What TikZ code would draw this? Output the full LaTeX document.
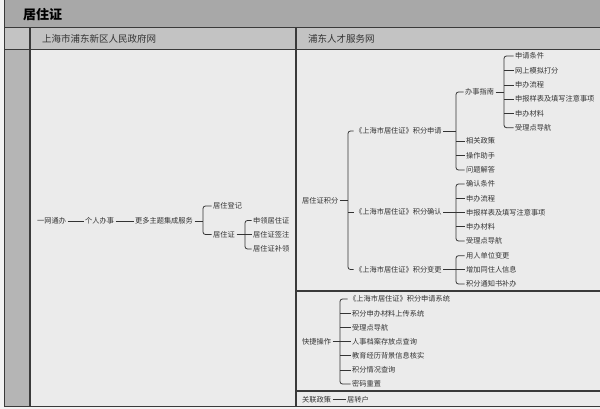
\documentclass[tikz,border=0pt]{standalone}
\usepackage{fontspec}
\newfontfamily\cjk{Noto Sans CJK SC}
\usetikzlibrary{calc}
\definecolor{titlebg}{HTML}{A8A8A8}
\definecolor{headbg}{HTML}{C3C3C3}
\definecolor{stripbg}{HTML}{B5B5B5}
\definecolor{bodybg}{HTML}{EBEBEB}
\definecolor{outbg}{HTML}{F2F2F2}
\definecolor{framec}{HTML}{3A3A3A}
\definecolor{txt}{HTML}{333333}
\newcommand\mybrk[4]{%
  \draw[conn] (#2.east) -- (#1 |- #2.east);
  \draw[conn,rounded corners=2.5pt] (#3.west) -- (#1 |- #3.west) -- (#1 |- #4.west) -- (#4.west);}
\newcommand\mystub[2]{\draw[conn] (#2.west) -- (#1 |- #2.west);}
\begin{document}
\begin{tikzpicture}[x=1pt,y=-1pt,
  conn/.style={draw=txt, line width=0.8pt},
  fr/.style={draw=framec, line width=1.4pt},
  lbl/.style={anchor=west, inner xsep=1.5pt, inner ysep=0pt, text height=6.3pt, text depth=0.9pt,
    font=\cjk\fontsize{7.2}{8}\selectfont, text=txt},
  hd/.style={anchor=west, inner sep=0pt, font=\cjk\fontsize{9.5}{11}\selectfont, text=txt,
    text height=8.3pt, text depth=1.2pt}]
\useasboundingbox (0,0) rectangle (600,409);
% backgrounds
\fill[outbg] (0,0) rectangle (600,409);
\fill[titlebg] (4,0) rectangle (600,28);
\fill[headbg] (4,28) rectangle (600,49.5);
\fill[stripbg] (4,49.5) rectangle (30,406.5);
\fill[bodybg] (30,49.5) rectangle (600,406.5);
% frame lines
\draw[fr] (4.5,0) -- (4.5,406.5);
\draw[draw=framec, line width=1pt] (4,28) -- (600,28);
\draw[fr] (4,49.5) -- (600,49.5);
\draw[fr] (30,28) -- (30,406.5);
\draw[fr] (296,28) -- (296,406.5);
\draw[fr] (296,291) -- (600,291);
\draw[fr] (296,391) -- (600,391);
\draw[fr] (4,406.5) -- (600,406.5);
% title and headers
\node[font=\cjk\bfseries\fontsize{13}{15}\selectfont, text=black, anchor=west, inner sep=0pt,
  text height=11.4pt, text depth=1.6pt] (title) at (23,15) {居住证};
\node[hd] (h1) at (42,38.5) {上海市浦东新区人民政府网};
\node[hd] (h2) at (308,38.5) {浦东人才服务网};
% left tree
\node[lbl] (a1) at (35.5,221) {一网通办};
\node[lbl] (a2) at (83.5,221) {个人办事};
\node[lbl] (a3) at (133.5,221) {更多主题集成服务};
\node[lbl] (a4) at (211.5,206) {居住登记};
\node[lbl] (a5) at (211.5,234.5) {居住证};
\node[lbl] (a6) at (251.5,220.5) {申领居住证};
\node[lbl] (a7) at (251.5,234.5) {居住证签注};
\node[lbl] (a8) at (251.5,249) {居住证补领};
\coordinate (ba) at (203,0);
\coordinate (bb) at (245,0);
\draw[conn] (a1) -- (a2);
\draw[conn] (a2) -- (a3);
\mybrk{ba}{a3}{a4}{a5}
\mybrk{bb}{a5}{a6}{a8}
\mystub{bb}{a7}
% right tree
\node[lbl] (r0) at (300.5,200.5) {居住证积分};
\node[lbl] (r1) at (353.5,131) {《上海市居住证》积分申请};
\node[lbl] (r2) at (353.5,212) {《上海市居住证》积分确认};
\node[lbl] (r3) at (353.5,269.5) {《上海市居住证》积分变更};
\coordinate (bc) at (348,0);
\mybrk{bc}{r0}{r1}{r3}
\mystub{bc}{r2}
\coordinate (bd) at (456,0);
\node[lbl] (s1) at (463.5,92) {办事指南};
\node[lbl] (s2) at (464.5,141) {相关政策};
\node[lbl] (s3) at (464.5,155.5) {操作助手};
\node[lbl] (s4) at (464.5,170) {问题解答};
\mybrk{bd}{r1}{s1}{s4}
\mystub{bd}{s2}
\mystub{bd}{s3}
\coordinate (be) at (504,0);
\node[lbl] (u1) at (513.5,56) {申请条件};
\node[lbl] (u2) at (513.5,70.5) {网上模拟打分};
\node[lbl] (u3) at (513.5,85) {申办流程};
\node[lbl] (u4) at (513.5,99.3) {申报样表及填写注意事项};
\node[lbl] (u5) at (513.5,113.5) {申办材料};
\node[lbl] (u6) at (513.5,127.7) {受理点导航};
\mybrk{be}{s1}{u1}{u6}
\mystub{be}{u2}
\mystub{be}{u3}
\mystub{be}{u4}
\mystub{be}{u5}
\node[lbl] (v1) at (464.5,184) {确认条件};
\node[lbl] (v2) at (464.5,198.3) {申办流程};
\node[lbl] (v3) at (464.5,212.7) {申报样表及填写注意事项};
\node[lbl] (v4) at (464.5,226.7) {申办材料};
\node[lbl] (v5) at (464.5,241) {受理点导航};
\mybrk{bd}{r2}{v1}{v5}
\mystub{bd}{v2}
\mystub{bd}{v3}
\mystub{bd}{v4}
\node[lbl] (w1) at (464.5,255.7) {用人单位变更};
\node[lbl] (w2) at (464.5,269.8) {增加同住人信息};
\node[lbl] (w3) at (464.5,284) {积分通知书补办};
\mybrk{bd}{r3}{w1}{w3}
\mystub{bd}{w2}
% quick operations
\node[lbl] (q0) at (300.5,341.7) {快捷操作};
\coordinate (bf) at (340,0);
\node[lbl] (q1) at (347.5,299) {《上海市居住证》积分申请系统};
\node[lbl] (q2) at (350.5,313.3) {积分申办材料上传系统};
\node[lbl] (q3) at (350.5,327.3) {受理点导航};
\node[lbl] (q4) at (350.5,341.7) {人事档案存放点查询};
\node[lbl] (q5) at (350.5,355.7) {教育经历背景信息核实};
\node[lbl] (q6) at (350.5,370) {积分情况查询};
\node[lbl] (q7) at (350.5,384) {密码重置};
\mybrk{bf}{q0}{q1}{q7}
\mystub{bf}{q2}
\mystub{bf}{q3}
\mystub{bf}{q4}
\mystub{bf}{q5}
\mystub{bf}{q6}
% related policy
\node[lbl] (p0) at (300.5,399.3) {关联政策};
\node[lbl] (p1) at (345.5,399.3) {居转户};
\draw[conn] (p0) -- (p1);
\end{tikzpicture}
\end{document}
